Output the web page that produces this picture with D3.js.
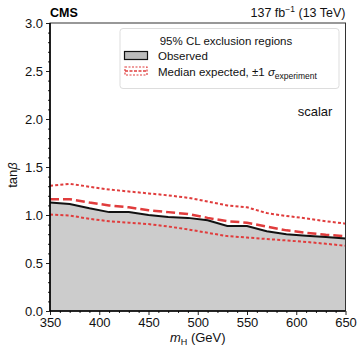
<!DOCTYPE html>
<html>
<head>
<meta charset="utf-8">
<script src="https://cdn.jsdelivr.net/npm/d3@7/dist/d3.min.js"></script>
<style>
  html, body { margin: 0; padding: 0; background: #fff; }
  svg { display: block; font-family: "Liberation Sans", Arial, Helvetica, sans-serif; }
</style>
</head>
<body>
<svg id="chart" width="358" height="347"></svg>
<script>
// Scan points in m_H (GeV)
const massPoints = [350, 370, 390, 410, 430, 450, 470, 490, 510, 530, 550, 570, 590, 610, 630, 650];
// Observed 95% CL exclusion boundary in tan(beta)
const observed   = [1.13, 1.115, 1.07, 1.03, 1.03, 1.0, 0.98, 0.97, 0.945, 0.885, 0.885, 0.83, 0.80, 0.785, 0.77, 0.755];
// Median expected boundary and its ±1 sigma band edges
const expected   = [1.165, 1.165, 1.13, 1.10, 1.08, 1.05, 1.03, 1.01, 0.97, 0.935, 0.92, 0.88, 0.84, 0.815, 0.795, 0.78];
const expUp      = [1.305, 1.325, 1.295, 1.265, 1.245, 1.225, 1.205, 1.18, 1.14, 1.10, 1.08, 1.02, 0.99, 0.965, 0.935, 0.91];
const expDown    = [1.005, 0.995, 0.96, 0.935, 0.92, 0.905, 0.88, 0.85, 0.815, 0.78, 0.765, 0.75, 0.735, 0.72, 0.70, 0.68];

const xTicks = [350, 400, 450, 500, 550, 600, 650];
const yTicks = [0.0, 0.5, 1.0, 1.5, 2.0, 2.5, 3.0];

const svg = d3.select("#chart");
const m = { left: 50, right: 12.5, top: 23, bottom: 36 };
const W = 358, H = 347;
const x = d3.scaleLinear().domain([350, 650]).range([m.left, W - m.right]);
const y = d3.scaleLinear().domain([0, 3]).range([H - m.bottom, m.top]);

const red = "#e03c3c";
const pts = arr => massPoints.map((mm, i) => [mm, arr[i]]);
const line = d3.line().x(d => x(d[0])).y(d => y(d[1]));

// Excluded region below the observed boundary
svg.append("path")
  .datum(pts(observed))
  .attr("fill", "#cccccc")
  .attr("d", d3.area().x(d => x(d[0])).y0(y(0)).y1(d => y(d[1])));

// ±1 sigma band edges
[expUp, expDown].forEach(arr => {
  svg.append("path").datum(pts(arr))
    .attr("fill", "none").attr("stroke", red).attr("stroke-width", 2)
    .attr("stroke-dasharray", "3,2.2").attr("d", line);
});
// Median expected
svg.append("path").datum(pts(expected))
  .attr("fill", "none").attr("stroke", red).attr("stroke-width", 2.5)
  .attr("stroke-dasharray", "9,4").attr("d", line);
// Observed
svg.append("path").datum(pts(observed))
  .attr("fill", "none").attr("stroke", "#111").attr("stroke-width", 2)
  .attr("d", line);

// Frame
svg.append("rect")
  .attr("x", x(350)).attr("y", y(3))
  .attr("width", x(650) - x(350)).attr("height", y(0) - y(3))
  .attr("fill", "none").attr("stroke", "#333").attr("stroke-width", 1);

// Axes
const xAxis = svg.append("g").attr("transform", `translate(0,${y(0)})`)
  .call(d3.axisBottom(x).tickValues(xTicks).tickFormat(d3.format("d")).tickSize(4).tickPadding(3));
const xMinor = svg.append("g").attr("transform", `translate(0,${y(0)})`)
  .call(d3.axisBottom(x).tickValues(d3.range(360, 650, 10).filter(v => v % 50)).tickSize(2).tickFormat(""));
const yAxis = svg.append("g").attr("transform", `translate(${x(350)},0)`)
  .call(d3.axisLeft(y).tickValues(yTicks).tickFormat(d3.format(".1f")).tickSize(4).tickPadding(3));
const yMinor = svg.append("g").attr("transform", `translate(${x(350)},0)`)
  .call(d3.axisLeft(y).tickValues(d3.range(1, 30).filter(v => v % 5).map(v => v / 10)).tickSize(2).tickFormat(""));
[xAxis, yAxis, xMinor, yMinor].forEach(g => {
  g.select(".domain").remove();
  g.selectAll("line").attr("stroke", "#222");
  g.selectAll("text").attr("font-size", 13).attr("fill", "#111")
    .attr("font-family", "'Liberation Sans', Arial, sans-serif");
});
svg.append("line").attr("x1", x(350)).attr("x2", x(350)).attr("y1", y(0)).attr("y2", y(3))
  .attr("stroke", "#000").attr("stroke-width", 1.6);
svg.append("line").attr("x1", x(350)).attr("x2", x(650)).attr("y1", y(0)).attr("y2", y(0))
  .attr("stroke", "#000").attr("stroke-width", 1.6);

// Axis titles
const xt = svg.append("text").attr("x", (x(350) + x(650)) / 2).attr("y", 342)
  .attr("text-anchor", "middle").attr("font-size", 13).attr("fill", "#111");
xt.append("tspan").attr("font-style", "italic").text("m");
xt.append("tspan").attr("font-size", 9).attr("dy", 3).text("H");
xt.append("tspan").attr("dy", -3).text(" (GeV)");

const yt = svg.append("text").attr("transform", `translate(17,${(y(0) + y(3)) / 2 + 8}) rotate(-90)`)
  .attr("text-anchor", "middle").attr("font-size", 13).attr("fill", "#111");
yt.append("tspan").text("tan");
yt.append("tspan").attr("font-style", "italic").text("β");

// Header
svg.append("text").attr("x", x(350)).attr("y", 17).attr("font-size", 12.5)
  .attr("font-weight", "bold").attr("fill", "#000").text("CMS");
const lum = svg.append("text").attr("x", x(650)).attr("y", 17).attr("text-anchor", "end")
  .attr("font-size", 12.5).attr("fill", "#111");
lum.append("tspan").text("137 fb");
lum.append("tspan").attr("font-size", 8.5).attr("dy", -5).text("−1");
lum.append("tspan").attr("dy", 5).text(" (13 TeV)");

// Legend
const lg = svg.append("g");
lg.append("rect").attr("x", 120).attr("y", 28.5).attr("width", 219).attr("height", 60)
  .attr("rx", 3).attr("fill", "#fff").attr("fill-opacity", 0.85)
  .attr("stroke", "#dddddd").attr("stroke-width", 1);
lg.append("text").attr("x", 226).attr("y", 45).attr("text-anchor", "middle")
  .attr("font-size", 11.5).attr("fill", "#111").text("95% CL exclusion regions");
lg.append("rect").attr("x", 124.5).attr("y", 51.5).attr("width", 23).attr("height", 8)
  .attr("fill", "#bbbbbb").attr("stroke", "#111").attr("stroke-width", 1.2);
lg.append("text").attr("x", 158).attr("y", 60).attr("font-size", 11.5).attr("fill", "#111").text("Observed");
lg.append("rect").attr("x", 125).attr("y", 67).attr("width", 22).attr("height", 8)
  .attr("fill", "none").attr("stroke", red).attr("stroke-width", 1.2).attr("stroke-dasharray", "2,1.5");
lg.append("line").attr("x1", 125).attr("x2", 147).attr("y1", 71).attr("y2", 71)
  .attr("stroke", red).attr("stroke-width", 1.5).attr("stroke-dasharray", "3,1.5");
const ml = lg.append("text").attr("x", 158).attr("y", 76).attr("font-size", 11.5).attr("fill", "#111");
ml.append("tspan").text("Median expected, ±1 ");
ml.append("tspan").attr("font-style", "italic").text("σ");
ml.append("tspan").attr("font-size", 8.5).attr("dy", 2.5).text("experiment");

svg.append("text").attr("x", 315).attr("y", 116).attr("text-anchor", "middle")
  .attr("font-size", 13).attr("fill", "#111").text("scalar");
</script>
</body>
</html>
